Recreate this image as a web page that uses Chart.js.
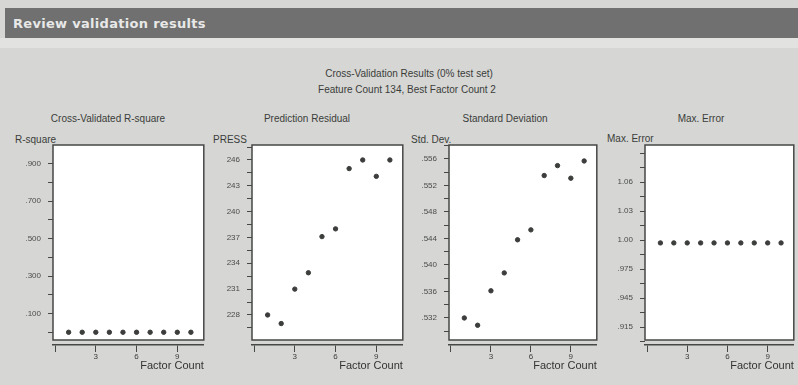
<!DOCTYPE html>
<html>
<head>
<meta charset="utf-8">
<script src="https://cdn.jsdelivr.net/npm/chart.js@4/dist/chart.umd.min.js"></script>
<style>
  html, body { margin: 0; padding: 0; }
  body {
    width: 798px; height: 385px; position: relative; overflow: hidden;
    background: #d6d6d4;
    font-family: "Liberation Sans", Arial, sans-serif;
    color: #333;
  }
  #header {
    position: absolute; left: 5px; top: 8px; width: 793px; height: 30px;
    background: #6f706f;
  }
  #header span {
    position: absolute; left: 8px; top: 8px;
    font: bold 13px "DejaVu Sans", sans-serif; color: #e8e8e8; letter-spacing: 0.3px;
  }
  #band { position: absolute; left: 0; top: 38px; width: 798px; height: 10px; background: #e2e2e0; }
  .txt { position: absolute; font-size: 10px; white-space: nowrap; color: #3a3d3a; }
  .ctr { transform: translateX(-50%); }
  canvas { position: absolute; }
</style>
</head>
<body>
<div id="header"><span>Review validation results</span></div>
<div id="band"></div>

<div class="txt ctr" style="left:409px; top:68px;">Cross-Validation Results (0% test set)</div>
<div class="txt ctr" style="left:407px; top:84px;">Feature Count 134, Best Factor Count 2</div>

<div class="txt ctr" style="left:108px; top:113px;">Cross-Validated R-square</div>
<div class="txt ctr" style="left:307px; top:113px;">Prediction Residual</div>
<div class="txt ctr" style="left:505px; top:113px;">Standard Deviation</div>
<div class="txt ctr" style="left:701px; top:113px;">Max. Error</div>

<div class="txt" style="left:15px; top:134px;">R-square</div>
<div class="txt" style="left:213px; top:134px;">PRESS</div>
<div class="txt" style="left:411px; top:134px;">Std. Dev.</div>
<div class="txt" style="left:607px; top:133px;">Max. Error</div>

<canvas id="c1"></canvas>
<canvas id="c2"></canvas>
<canvas id="c3"></canvas>
<canvas id="c4"></canvas>

<script>
// Data
const factorCounts = [1, 2, 3, 4, 5, 6, 7, 8, 9, 10];
const rSquare = [0, 0, 0, 0, 0, 0, 0, 0, 0, 0];
const press = [228.0, 227.0, 231.0, 232.9, 237.1, 238.0, 245.0, 246.0, 244.1, 246.0];
const stdDev = [0.5320, 0.5309, 0.5361, 0.5388, 0.5438, 0.5453, 0.5535, 0.5550, 0.5531, 0.5557];
const maxError = [1.002, 1.002, 1.002, 1.002, 1.002, 1.002, 1.002, 1.002, 1.002, 1.002];

// Tick labels
const xTicks = [0, 3, 6, 9];
const xTickLabels = ['', '3', '6', '9'];
const rSquareTicks = [0.9, 0.7, 0.5, 0.3, 0.1];
const rSquareLabels = ['.900', '.700', '.500', '.300', '.100'];
const pressTicks = [246, 243, 240, 237, 234, 231, 228];
const pressLabels = ['246', '243', '240', '237', '234', '231', '228'];
const stdDevTicks = [0.556, 0.552, 0.548, 0.544, 0.540, 0.536, 0.532];
const stdDevLabels = ['.556', '.552', '.548', '.544', '.540', '.536', '.532'];
const maxErrTicks = [1.065, 1.035, 1.005, 0.975, 0.945, 0.915];
const maxErrLabels = ['1.06', '1.03', '1.00', '.975', '.945', '.915'];

const ink = '#454845';
const boxTop = 145, axisY = 345;

// white plot box, stops a few px above the x axis line
const boxPlugin = {
    id: 'box',
    beforeDatasetsDraw(chart) {
        const a = chart.chartArea;
        const ctx = chart.ctx;
        ctx.save();
        ctx.fillStyle = '#ffffff';
        ctx.fillRect(a.left, a.top, a.right - a.left, a.bottom - a.top - 5);
        ctx.strokeStyle = ink;
        ctx.lineWidth = 1.5;
        ctx.strokeRect(a.left, a.top, a.right - a.left, a.bottom - a.top - 5);
        ctx.restore();
    }
};

function makePanel(id, left, right, values, yMin, yMax, minorStart, minorStep, majors, majorLabels) {
    const canvas = document.getElementById(id);
    const yAxisW = 52;
    const w = right - left + yAxisW + 3;
    canvas.style.left = (left - yAxisW) + 'px';
    canvas.style.top = '125px';
    canvas.width = w;
    canvas.height = 260;
    canvas.style.width = w + 'px';
    canvas.style.height = '260px';

    new Chart(canvas.getContext('2d'), {
        type: 'scatter',
        data: {
            datasets: [{
                data: factorCounts.map((f, i) => ({ x: f, y: values[i] })),
                backgroundColor: '#3c3e3c',
                borderColor: '#3c3e3c',
                pointRadius: 2.2,
                pointHoverRadius: 2.2
            }]
        },
        options: {
            responsive: false,
            animation: false,
            layout: { padding: { top: boxTop - 125, right: 3, left: 0, bottom: 0 } },
            plugins: { legend: { display: false }, tooltip: { enabled: false } },
            scales: {
                x: {
                    type: 'linear', min: -0.15, max: 10.95,
                    afterFit: s => { s.height = 385 - axisY; },
                    afterBuildTicks: s => { s.ticks = xTicks.map(v => ({ value: v })); },
                    ticks: {
                        autoSkip: false, maxRotation: 0, padding: 0,
                        color: '#3a3d3a', font: { size: 8, family: 'Liberation Sans' },
                        callback: v => xTickLabels[xTicks.indexOf(v)] ?? ''
                    },
                    grid: { drawOnChartArea: false, tickLength: 7, color: ink, lineWidth: 1 },
                    border: { display: true, color: ink, width: 1.5 },
                    title: {
                        display: true, text: 'Factor Count', align: 'end',
                        color: '#333', font: { size: 11, family: 'Liberation Sans' },
                        padding: { top: 0, bottom: 12 }
                    }
                },
                y: {
                    type: 'linear', min: yMin, max: yMax,
                    afterFit: s => { s.width = yAxisW; },
                    afterBuildTicks: s => {
                        const t = [];
                        for (let v = minorStart; v <= yMax; v += minorStep) t.push({ value: +v.toFixed(5) });
                        s.ticks = t;
                    },
                    ticks: {
                        autoSkip: false, padding: 7,
                        color: '#4a4d4a', font: { size: 8, family: 'Liberation Sans' },
                        callback: v => {
                            const k = majors.findIndex(m => Math.abs(m - v) < minorStep / 10);
                            return k >= 0 ? majorLabels[k] : '';
                        }
                    },
                    grid: { drawOnChartArea: false, tickLength: 5, color: ink, lineWidth: 1 },
                    border: { display: false }
                }
            }
        },
        plugins: [boxPlugin]
    });
}

makePanel('c1', 53, 204, rSquare, -0.068, 0.999, 0.0, 0.1, rSquareTicks, rSquareLabels);
makePanel('c2', 252, 403, press, 224.51, 247.74, 226.5, 1.5, pressTicks, pressLabels);
makePanel('c3', 449, 597, stdDev, 0.52792, 0.55811, 0.530, 0.002, stdDevTicks, stdDevLabels);
makePanel('c4', 645, 794, maxError, 0.8964, 1.1033, 0.900, 0.015, maxErrTicks, maxErrLabels);
</script>
</body>
</html>
